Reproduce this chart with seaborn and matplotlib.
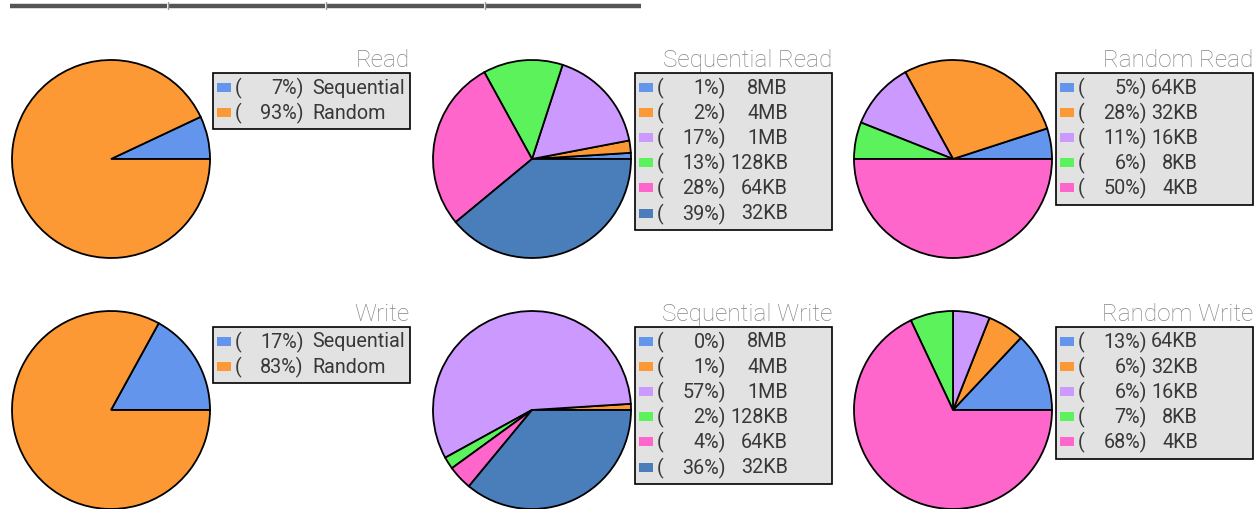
import matplotlib
matplotlib.use("Agg")
import matplotlib.pyplot as plt
from matplotlib.patches import Rectangle
import seaborn as sns

# ---------------- data ----------------
read_labels = ["Sequential", "Random"]
read_pct = [7, 93]
write_labels = ["Sequential", "Random"]
write_pct = [17, 83]

seq_labels = ["8MB", "4MB", "1MB", "128KB", "64KB", "32KB"]
seq_read_pct = [1, 2, 17, 13, 28, 39]
seq_write_pct = [0, 1, 57, 2, 4, 36]

rand_labels = ["64KB", "32KB", "16KB", "8KB", "4KB"]
rand_read_pct = [5, 28, 11, 6, 50]
rand_write_pct = [13, 6, 6, 7, 68]

titles = ["Read", "Sequential Read", "Random Read",
          "Write", "Sequential Write", "Random Write"]

hex_colors = ["#6495ed", "#fd9935", "#cc99ff", "#5cf25c", "#ff66cc", "#4a7ebb"]

# ---------------- style ----------------
sns.set_theme(style="white")
plt.rcParams["font.family"] = ["Roboto", "DejaVu Sans"]
palette = sns.color_palette(hex_colors)

W, H = 1259, 510
fig = plt.figure(figsize=(W / 100, H / 100), dpi=100)
fig.patch.set_facecolor("white")

R = 99
PAD = 3


def pie_at(cx, cy, values):
    size = R + PAD
    ax = fig.add_axes([(cx - size) / W, 1 - (cy + size) / H, 2 * size / W, 2 * size / H])
    ax.pie(values, colors=palette[:len(values)], startangle=0, counterclock=True,
           radius=1, wedgeprops=dict(edgecolor="black", linewidth=1.3))
    lim = size / R
    ax.set_xlim(-lim, lim)
    ax.set_ylim(-lim, lim)
    ax.set_aspect("equal")
    ax.axis("off")
    return ax


overlay = fig.add_axes([0, 0, 1, 1], zorder=10)
overlay.set_xlim(0, W)
overlay.set_ylim(H, 0)
overlay.axis("off")
overlay.patch.set_alpha(0)

# top tab bar line
for x0, x1 in [(10, 167), (169, 325), (327, 484), (486, 641)]:
    overlay.plot([x0, x1], [6.5, 6.5], color="#555555", lw=3.2, solid_capstyle="butt")
for xs in [168, 326, 485]:
    overlay.plot([xs, xs], [3, 10], color="#9a9a9a", lw=1)

ROW = 25.2
BOX_W = 197
FS = 14.2
TXT = "#383838"


def legend_at(left, top, labels, pct, title, label_mode, label_x):
    n = len(labels)
    h = n * ROW + 6
    overlay.add_patch(Rectangle((left, top), BOX_W, h, facecolor="#e2e2e2",
                                edgecolor="black", lw=1.2))
    overlay.text(left + BOX_W, top - 7, title, ha="right", va="baseline",
                 fontsize=17.5, color="#858585", fontweight="light")
    for i, (lab, p) in enumerate(zip(labels, pct)):
        yc = top + 14 + ROW * i
        overlay.add_patch(Rectangle((left + 4, yc - 4.5), 14, 9,
                                    facecolor=palette[i], edgecolor="none"))
        overlay.text(left + 22, yc, "(", ha="left", va="center", fontsize=FS, color=TXT)
        overlay.text(left + 91, yc, f"{p}%)", ha="right", va="center", fontsize=FS,
                     color=TXT)
        overlay.text(left + label_x, yc, lab, ha=label_mode, va="center", fontsize=FS,
                     color=TXT)


cxs = [111, 532, 953]
cys = [160, 411]
lefts = [213, 635, 1056]
tops = [74, 328]

pie_at(cxs[0], cys[0], read_pct)
pie_at(cxs[1], cys[0], seq_read_pct)
pie_at(cxs[2], cys[0], rand_read_pct)
pie_at(cxs[0], cys[1], write_pct)
pie_at(cxs[1], cys[1], seq_write_pct)
pie_at(cxs[2], cys[1], rand_write_pct)

legend_at(lefts[0], tops[0], read_labels, read_pct, titles[0], "left", 99)
legend_at(lefts[1], tops[0], seq_labels, seq_read_pct, titles[1], "right", 153)
legend_at(lefts[2], tops[0], rand_labels, rand_read_pct, titles[2], "right", 142)
legend_at(lefts[0], tops[1], write_labels, write_pct, titles[3], "left", 99)
legend_at(lefts[1], tops[1], seq_labels, seq_write_pct, titles[4], "right", 153)
legend_at(lefts[2], tops[1], rand_labels, rand_write_pct, titles[5], "right", 142)

fig.savefig("out.png", dpi=100)
